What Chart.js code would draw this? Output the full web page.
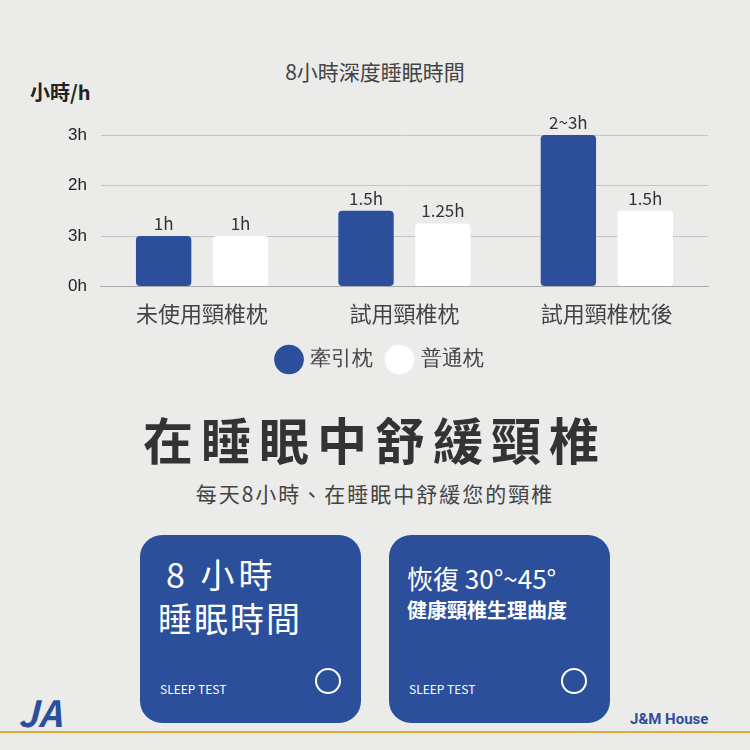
<!DOCTYPE html>
<html><head><meta charset="utf-8">
<script src="https://cdn.jsdelivr.net/npm/chart.js@4"></script>
<style>
body{margin:0;width:750px;height:750px;background:#ebebea;font-family:"Noto Sans CJK TC",sans-serif;position:relative;overflow:hidden}
.a{position:absolute;white-space:nowrap}
.card{position:absolute;top:535px;width:221px;height:188px;background:#2c4f9c;border-radius:22px;color:#fff}
</style></head><body>
<div class="a" style="left:0;width:750px;top:56px;text-align:center;font-size:21px;color:#444">8小時深度睡眠時間</div>
<div class="a" style="left:30px;top:77px;font-size:20px;color:#222;font-weight:bold">小時/h</div>
<div class="a" style="left:0;top:100px;width:750px;height:280px"><canvas id="c"></canvas></div>
<div class="a" style="left:0;width:750px;top:402px;text-align:center;font-size:50px;font-weight:bold;color:#333;letter-spacing:8px">在睡眠中舒緩頸椎</div>
<div class="a" style="left:0;width:750px;top:478px;text-align:center;font-size:21px;color:#444;letter-spacing:2px">每天8小時、在睡眠中舒緩您的頸椎</div>
<div class="card" style="left:140px">
 <div class="a" style="left:26px;top:14px;font-size:34px;letter-spacing:4px">8 小時</div>
 <div class="a" style="left:18px;top:58px;font-size:34px;letter-spacing:2px">睡眠時間</div>
 <div class="a" style="left:20px;top:145px;font-size:12px">SLEEP TEST</div>
 <div class="a" style="left:175px;top:133px;width:22px;height:22px;border:2px solid #fff;border-radius:50%"></div>
</div>
<div class="card" style="left:389px">
 <div class="a" style="left:18px;top:24px;font-size:26px">恢復 30°~45°</div>
 <div class="a" style="left:18px;top:60px;font-size:20px;font-weight:bold">健康頸椎生理曲度</div>
 <div class="a" style="left:20px;top:145px;font-size:12px">SLEEP TEST</div>
 <div class="a" style="left:172px;top:133px;width:22px;height:22px;border:2px solid #fff;border-radius:50%"></div>
</div>
<div class="a" style="left:0;top:731px;width:750px;height:2px;background:#e0a93a"></div>
<div class="a" style="left:18px;top:685px;font-size:36px;font-style:italic;font-weight:bold;color:#2c4f9c">JA</div>
<div class="a" style="left:630px;top:710px;font-size:15px;font-weight:bold;color:#2c4f9c;font-family:Roboto">J&amp;M House</div>
<script>
const categories=["未使用頸椎枕","試用頸椎枕","試用頸椎枕後"];
const tractionValues=[1,1.5,3];
const normalValues=[1,1.25,1.5];
const tractionLabels=["1h","1.5h","2~3h"];
const normalLabels=["1h","1.25h","1.5h"];
const tickLabels={0:"0h",1:"3h",2:"2h",3:"3h"};
const blue="#2c4f9c";
const lbl={id:"lbl",afterDatasetsDraw(ch){const c=ch.ctx;c.save();c.font="17px 'Noto Sans CJK TC'";c.fillStyle="#333";c.textAlign="center";c.textBaseline="bottom";
[tractionLabels,normalLabels].forEach((L,d)=>ch.getDatasetMeta(d).data.forEach((b,i)=>c.fillText(L[i],b.x,b.y-4)));c.restore();}};
new Chart(document.getElementById("c"),{type:"bar",
data:{labels:categories,datasets:[
{label:"牽引枕",data:tractionValues,backgroundColor:blue,borderRadius:4,borderSkipped:false},
{label:"普通枕",data:normalValues,backgroundColor:"#fff",borderRadius:4,borderSkipped:false}]},
options:{responsive:true,maintainAspectRatio:false,animation:false,
layout:{padding:{left:54,right:42,top:35,bottom:0}},
datasets:{bar:{categoryPercentage:0.76,barPercentage:0.72}},
scales:{y:{min:0,max:3,ticks:{stepSize:1,color:"#222",font:{size:17},callback:v=>tickLabels[v],padding:14},grid:{color:"#c4c4c4",drawTicks:false},border:{display:false}},
x:{grid:{display:false},border:{color:"#aaa"},ticks:{color:"#444",font:{size:22,family:"Noto Sans CJK TC"},padding:6}}},
plugins:{legend:{position:"bottom",labels:{usePointStyle:true,pointStyle:"circle",boxWidth:24,boxHeight:24,color:"#444",font:{size:21},padding:16}},tooltip:{enabled:false}}},
plugins:[lbl]});
</script></body></html>
